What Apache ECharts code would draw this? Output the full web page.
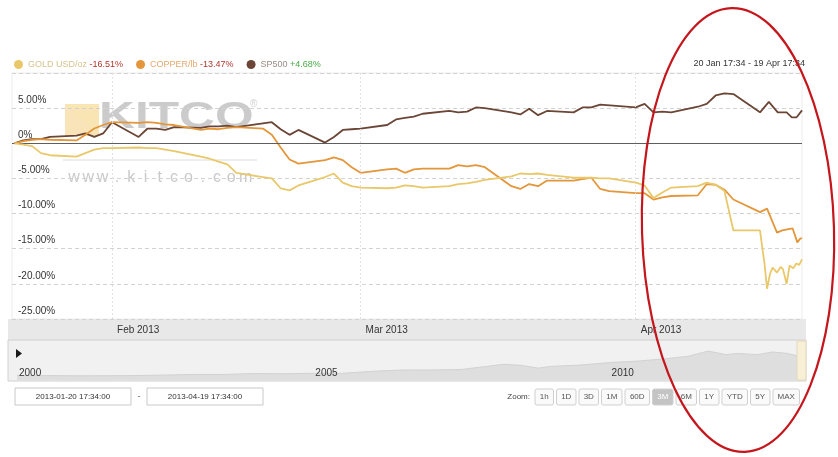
<!DOCTYPE html>
<html>
<head>
<meta charset="utf-8">
<script src="https://cdn.jsdelivr.net/npm/echarts@6/dist/echarts.min.js"></script>
<style>
  html, body { margin: 0; padding: 0; background: #fff; }
  #chart { width: 838px; height: 457px; }
</style>
</head>
<body>
<div id="chart"></div>
<script>
// ---- data: percent change since 20 Jan 17:34 ----
const tradingDays = [
  '2013-01-21','2013-01-22','2013-01-23','2013-01-24','2013-01-25',
  '2013-01-28','2013-01-29','2013-01-30','2013-01-31','2013-02-01',
  '2013-02-04','2013-02-05','2013-02-06','2013-02-07','2013-02-08',
  '2013-02-11','2013-02-12','2013-02-13','2013-02-14','2013-02-15',
  '2013-02-18','2013-02-19','2013-02-20','2013-02-21','2013-02-22',
  '2013-02-25','2013-02-26','2013-02-27','2013-02-28','2013-03-01',
  '2013-03-04','2013-03-05','2013-03-06','2013-03-07','2013-03-08',
  '2013-03-11','2013-03-12','2013-03-13','2013-03-14','2013-03-15',
  '2013-03-18','2013-03-19','2013-03-20','2013-03-21','2013-03-22',
  '2013-03-25','2013-03-26','2013-03-27','2013-03-28','2013-03-29',
  '2013-04-01','2013-04-02','2013-04-03','2013-04-04','2013-04-05',
  '2013-04-08','2013-04-09','2013-04-10','2013-04-11','2013-04-12'
];

const goldDaily = [
  0, -0.2, -0.4, -1.4, -1.7,
  -1.9, -1.4, -0.9, -0.7, -0.7,
  -0.6, -0.7, -0.7, -0.9, -1.1,
  -1.9, -2.2, -2.6, -3.0, -4.2,
  -4.8, -5.0, -6.4, -6.7, -6.0,
  -4.8, -4.3, -5.6, -6.1, -6.3,
  -6.4, -6.3, -6.0, -6.1, -6.3,
  -6.1, -5.8, -5.7, -5.5, -5.2,
  -4.7, -4.3, -4.4, -4.3, -4.5,
  -4.9, -4.9, -4.9, -5.0, -5.0,
  -5.6, -6.0, -7.8, -7.0, -6.3,
  -6.1, -5.6, -5.9, -6.8, -12.4
];
const goldLastWeekTimes = [
  '2013-04-15 00:00','2013-04-15 04:00','2013-04-15 12:00','2013-04-15 19:00',
  '2013-04-16 03:00','2013-04-16 10:00','2013-04-16 22:00','2013-04-17 08:00',
  '2013-04-17 14:00','2013-04-18 00:00','2013-04-18 08:00','2013-04-18 18:00',
  '2013-04-19 02:00','2013-04-19 10:00','2013-04-19 17:34'
];
const goldLastWeek = [
  -12.4, -14.0, -17.0, -20.7,
  -18.6, -17.7, -18.4, -17.6,
  -17.9, -20.0, -17.4, -17.8,
  -17.1, -17.3, -16.51
];

const copperDaily = [
  0, 0.3, 0.5, 0.6, 0.5,
  0.4, 1.2, 2.1, 2.6, 3.0,
  2.9, 3.0, 2.9, 2.7, 2.6,
  1.9, 2.1, 2.0, 2.2, 2.3,
  2.1, 1.2, -0.6, -2.3, -2.9,
  -2.4, -2.0, -2.4, -3.4, -4.2,
  -3.7, -3.6, -4.2, -3.7, -3.6,
  -3.6, -3.1, -3.3, -3.1, -3.4,
  -6.1, -6.5, -5.8, -6.1, -5.3,
  -5.3, -5.1, -4.9, -6.5, -6.8,
  -7.1, -7.1, -8.0, -7.7, -7.5,
  -7.4, -5.8, -5.9, -6.6, -8.0
];
const copperLastWeekTimes = [
  '2013-04-15 00:00','2013-04-15 19:00','2013-04-16 22:00','2013-04-17 12:00',
  '2013-04-18 16:00','2013-04-19 05:00','2013-04-19 12:00','2013-04-19 17:34'
];
const copperLastWeek = [-9.8, -9.3, -12.7, -12.4, -12.1, -14.1, -13.6, -13.47];

// null = market holiday
const spDaily = [
  0, 0.4, 0.6, 0.6, 0.9,
  1.1, 1.4, 0.9, 1.4, 3.0,
  0.9, 2.1, 2.1, 1.9, 2.3,
  2.2, 2.4, 2.4, 2.5, 2.3,
  null, 3.0, 2.0, 1.2, 1.9,
  0.1, 0.9, 1.9, 2.0, 2.1,
  2.6, 3.4, 3.6, 3.8, 4.2,
  4.6, 4.4, 4.5, 5.1, 5.0,
  4.4, 4.1, 4.9, 4.0, 4.6,
  4.4, 5.1, 5.1, 5.5, null,
  5.1, 5.6, 4.4, 4.5, 4.4,
  5.2, 5.6, 6.8, 7.1, 7.0
];
const spLastWeekTimes = [
  '2013-04-15 00:00','2013-04-16 00:00','2013-04-17 00:00','2013-04-18 00:00',
  '2013-04-18 14:00','2013-04-19 03:00','2013-04-19 17:34'
];
const spLastWeek = [4.4, 5.9, 4.4, 4.4, 3.7, 3.7, 4.68];

// long-range navigator series (2000 - 2013)
const navTimes = [
  '2000-01-01','2000-07-01','2001-01-01','2001-07-01','2002-01-01','2002-07-01',
  '2003-01-01','2003-07-01','2004-01-01','2004-07-01','2005-01-01','2005-07-01',
  '2006-01-01','2006-07-01','2007-01-01','2007-07-01','2008-01-01','2008-03-15',
  '2008-07-01','2008-10-20','2009-01-01','2009-07-01','2010-01-01','2010-07-01',
  '2011-01-01','2011-05-01','2011-09-01','2011-12-20','2012-03-01','2012-07-01',
  '2012-10-01','2013-01-01','2013-04-19'
];
const navValues = [
  290, 280, 265, 270, 280, 315,
  350, 350, 410, 395, 425, 425,
  550, 630, 635, 665, 890, 990,
  930, 750, 860, 940, 1100, 1200,
  1360, 1500, 1830, 1600, 1680, 1600,
  1770, 1680, 1400
];

const rangeStart = '2013-01-20 17:34';
const rangeEnd = '2013-04-19 17:34';
const monthTicks = ['2013-02-01', '2013-03-01', '2013-04-01'];
const yearTicks = ['2000-01-01', '2005-01-01', '2010-01-01'];
const yTicks = { min: -25, max: 10, step: 5 };
const zoomButtons = ['1h', '1D', '3D', '1M', '60D', '3M', '6M', '1Y', 'YTD', '5Y', 'MAX'];
const activeZoom = '3M';

// ---- helpers ----
const FONT = '"Liberation Sans", Arial, sans-serif';
function parse(s) {
  const m = s.match(/^(\d+)-(\d+)-(\d+)(?:\s+(\d+):(\d+))?$/);
  return new Date(+m[1], +m[2] - 1, +m[3], m[4] ? +m[4] : 0, m[5] ? +m[5] : 0).getTime();
}
const MONTHS = ['Jan','Feb','Mar','Apr','May','Jun','Jul','Aug','Sep','Oct','Nov','Dec'];
const pad = n => (n < 10 ? '0' : '') + n;
const fullStamp = t => { const d = new Date(t); return d.getFullYear() + '-' + pad(d.getMonth() + 1) + '-' + pad(d.getDate()) + ' ' + pad(d.getHours()) + ':' + pad(d.getMinutes()) + ':00'; };
const shortStamp = t => { const d = new Date(t); return d.getDate() + ' ' + MONTHS[d.getMonth()] + ' ' + pad(d.getHours()) + ':' + pad(d.getMinutes()); };
const lastOf = arr => arr[arr.length - 1];
const pctText = v => (v > 0 ? '+' : '') + v.toFixed(2) + '%';

const seriesInfo = [
  { name: 'GOLD USD/oz', key: 'g', color: '#e9c86a', times: tradingDays.concat(goldLastWeekTimes), values: goldDaily.concat(goldLastWeek) },
  { name: 'COPPER/lb',   key: 'c', color: '#e3963a', times: tradingDays.concat(copperLastWeekTimes), values: copperDaily.concat(copperLastWeek) },
  { name: 'SP500',       key: 's', color: '#6b4535', times: tradingDays.concat(spLastWeekTimes), values: spDaily.concat(spLastWeek) }
];

const measureCtx = document.createElement('canvas').getContext('2d');
function textWidth(str, font) { measureCtx.font = font; return measureCtx.measureText(str).width; }

// ---- graphic decorations ----
const graphics = [];

// axis label band and navigator band
graphics.push({ type: 'rect', z: 0, silent: true, shape: { x: 8, y: 319, width: 798, height: 21 }, style: { fill: '#e8e8e8' } });
graphics.push({ type: 'rect', z: 0, silent: true, shape: { x: 8, y: 340, width: 798, height: 41 }, style: { fill: '#f1f1f1', stroke: '#d0d0d0', lineWidth: 1 } });
// navigator range handle
graphics.push({ type: 'rect', z: 5, silent: true, shape: { x: 797, y: 341, width: 9, height: 39 }, style: { fill: '#f7efd6', stroke: '#e2d9bd', lineWidth: 1 } });
// play marker
graphics.push({ type: 'polygon', z: 5, silent: true, shape: { points: [[16, 349], [22, 353.5], [16, 358]] }, style: { fill: '#1a1a1a' } });

// range text at top right
graphics.push({ type: 'text', z: 5, x: 805, y: 64, style: { text: shortStamp(parse(rangeStart)) + ' - ' + shortStamp(parse(rangeEnd)), fill: '#333', font: '9px ' + FONT, align: 'right', verticalAlign: 'middle' } });

// date input boxes
[[15, rangeStart], [147, rangeEnd]].forEach(([x, s]) => {
  graphics.push({ type: 'rect', z: 5, silent: true, shape: { x: x, y: 388, width: 116, height: 17 }, style: { fill: '#fff', stroke: '#c9c9c9', lineWidth: 1 } });
  graphics.push({ type: 'text', z: 6, x: x + 58, y: 397, style: { text: fullStamp(parse(s)), fill: '#333', font: '8px ' + FONT, align: 'center', verticalAlign: 'middle' } });
});
graphics.push({ type: 'text', z: 6, x: 139, y: 397, style: { text: '-', fill: '#666', font: '9px ' + FONT, align: 'center', verticalAlign: 'middle' } });

// zoom buttons
graphics.push({ type: 'text', z: 6, x: 530, y: 397, style: { text: 'Zoom:', fill: '#444', font: '8px ' + FONT, align: 'right', verticalAlign: 'middle' } });
let bx = 535;
zoomButtons.forEach(lbl => {
  const w = Math.round(textWidth(lbl, '8px ' + FONT)) + 9.5;
  const on = lbl === activeZoom;
  graphics.push({ type: 'rect', z: 5, silent: true, shape: { x: bx, y: 389, width: w, height: 16, r: 2 }, style: { fill: on ? '#c4c4c4' : '#fafafa', stroke: '#cfcfcf', lineWidth: 1 } });
  graphics.push({ type: 'text', z: 6, x: bx + w / 2, y: 397, style: { text: lbl, fill: on ? '#fff' : '#555', font: '8px ' + FONT, align: 'center', verticalAlign: 'middle' } });
  bx += w + 3;
});

// watermark
graphics.push({ type: 'rect', z: 0, silent: true, shape: { x: 65, y: 104, width: 34, height: 32 }, style: { fill: 'rgba(244,206,128,0.55)' } });
graphics.push({ type: 'polygon', z: 0, silent: true, shape: { points: [[65, 104], [99, 104], [99, 136]] }, style: { fill: 'rgba(250,228,175,0.5)' } });
graphics.push({ type: 'text', z: 0, silent: true, x: 99, y: 118, scaleX: 1.38, style: { text: 'KITCO', fill: 'rgba(160,160,160,0.55)', font: 'bold 36px ' + FONT, align: 'left', verticalAlign: 'middle' } });
graphics.push({ type: 'text', z: 0, silent: true, x: 250, y: 104, style: { text: '®', fill: 'rgba(170,170,170,0.55)', font: '10px ' + FONT, align: 'left', verticalAlign: 'middle' } });
graphics.push({ type: 'line', z: 0, silent: true, shape: { x1: 63, y1: 160, x2: 257, y2: 160 }, style: { stroke: 'rgba(190,190,190,0.5)', lineWidth: 1 } });
'www.kitco.com'.split('').forEach((ch, i) => {
  graphics.push({ type: 'text', z: 0, silent: true, x: 74 + i * 14.3, y: 178, style: { text: ch, fill: 'rgba(165,165,165,0.6)', font: '16px ' + FONT, align: 'center', verticalAlign: 'middle' } });
});

// hand-drawn highlight, slightly tilted
graphics.push({ type: 'ellipse', z: 100, silent: true, x: 738, y: 230, rotation: 0.03, shape: { cx: 0, cy: 0, rx: 96, ry: 222 }, style: { fill: 'none', stroke: '#c4161c', lineWidth: 2.2 } });

// ---- chart ----
const chart = echarts.init(document.getElementById('chart'), null, { renderer: 'canvas' });

const richStyles = {
  g: { color: '#d6c38d' }, c: { color: '#e5aa6c' }, s: { color: '#9a8c82' },
  neg: { color: '#b2352b' }, pos: { color: '#45ad45' }
};
Object.values(richStyles).forEach(r => { r.fontSize = 9; r.fontFamily = FONT; });

const lineSeries = seriesInfo.map((s, i) => ({
  name: s.name,
  type: 'line',
  xAxisIndex: 0, yAxisIndex: 0,
  showSymbol: false,
  connectNulls: true,
  z: 3 + (2 - i),
  lineStyle: { color: s.color, width: 1.8 },
  itemStyle: { color: s.color },
  data: s.times.map((t, k) => [parse(t), s.values[k]]),
  markLine: i === 2 ? {
    silent: true, symbol: 'none', label: { show: false },
    data: monthTicks.map(m => ({ xAxis: parse(m), lineStyle: { color: '#e2e2e2', type: [2, 2], width: 1 } }))
      .concat([{ yAxis: 0, lineStyle: { color: '#5e5e5e', type: 'solid', width: 1 } }])
  } : undefined
}));

chart.setOption({
  animation: false,
  backgroundColor: '#ffffff',
  textStyle: { fontFamily: FONT },
  legend: {
    left: 14, top: 60, padding: 0,
    icon: 'circle', itemWidth: 9, itemHeight: 9, itemGap: 13,
    data: seriesInfo.map(s => s.name),
    textStyle: { fontSize: 9, rich: richStyles },
    formatter: name => {
      const s = seriesInfo.find(d => d.name === name);
      const v = lastOf(s.values);
      return '{' + s.key + '|' + name + '} {' + (v < 0 ? 'neg' : 'pos') + '|' + pctText(v) + '}';
    }
  },
  grid: [
    { left: 12, right: 36, top: 73, bottom: 138, show: true, borderColor: '#ececec', borderWidth: 1, backgroundColor: 'transparent' },
    { left: 17, right: 33, top: 342, height: 38 }
  ],
  xAxis: [
    {
      type: 'value', gridIndex: 0,
      min: parse(rangeStart), max: parse(rangeEnd),
      axisLine: { show: false }, axisTick: { show: false }, splitLine: { show: false },
      axisLabel: {
        customValues: monthTicks.map(parse),
        formatter: v => { const d = new Date(v); return MONTHS[d.getMonth()] + ' ' + d.getFullYear(); },
        color: '#333', fontSize: 10, margin: 6, align: 'left', padding: [0, 0, 0, 5]
      }
    },
    {
      type: 'value', gridIndex: 1, z: 10,
      min: parse(yearTicks[0]), max: parse(rangeEnd),
      axisLine: { show: false }, axisTick: { show: false }, splitLine: { show: false },
      axisLabel: {
        inside: true,
        customValues: yearTicks.map(parse),
        formatter: v => String(new Date(v).getFullYear()),
        color: '#333', fontSize: 10, margin: 2, align: 'left', padding: [0, 0, 0, 2]
      }
    }
  ],
  yAxis: [
    {
      type: 'value', gridIndex: 0,
      min: yTicks.min, max: yTicks.max, interval: yTicks.step,
      axisLine: { show: false }, axisTick: { show: false },
      splitLine: { show: true, lineStyle: { color: '#d2d2d2', type: [4, 3], width: 1 } },
      axisLabel: {
        inside: true, margin: 6,
        verticalAlign: 'bottom', padding: [0, 0, 3, 0],
        color: '#333', fontSize: 10,
        formatter: v => (v === yTicks.max ? '' : (v === 0 ? '0%' : v.toFixed(2) + '%'))
      }
    },
    { type: 'value', gridIndex: 1, min: 0, max: 2400, show: false }
  ],
  series: lineSeries.concat([{
    name: 'navigator',
    type: 'line',
    xAxisIndex: 1, yAxisIndex: 1,
    showSymbol: false,
    silent: true,
    z: 1,
    lineStyle: { color: '#d2d2d2', width: 1 },
    areaStyle: { color: '#dedede', opacity: 1 },
    data: navTimes.map((t, k) => [parse(t), navValues[k]])
  }]),
  graphic: { elements: graphics }
});
</script>
</body>
</html>
